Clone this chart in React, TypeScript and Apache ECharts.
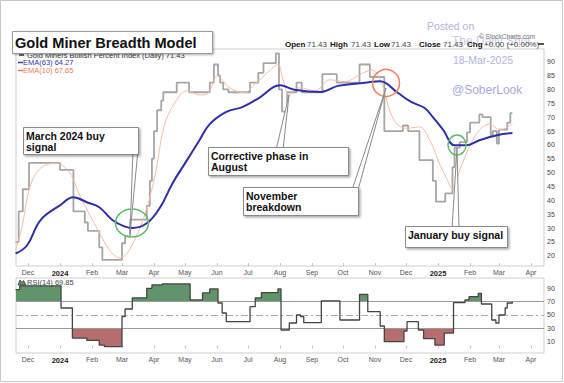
import React, { useEffect, useRef } from 'react';
import * as echarts from 'echarts';

// ---- Data ----
const grayDates = ['2023-11-19','2023-11-22','2023-11-26','2023-12-02','2024-01-01','2024-01-14','2024-01-25','2024-01-28','2024-02-08','2024-02-11','2024-03-01','2024-03-04','2024-03-09','2024-03-25','2024-03-28','2024-03-30','2024-04-01','2024-04-04','2024-04-08','2024-04-10','2024-04-23','2024-05-05','2024-05-25','2024-05-29','2024-06-02','2024-06-04','2024-06-07','2024-06-12','2024-07-03','2024-07-11','2024-07-16','2024-07-28','2024-07-31','2024-08-03','2024-08-08','2024-08-17','2024-08-22','2024-09-11','2024-09-25','2024-10-17','2024-10-27','2024-11-10','2024-11-28','2024-12-03','2024-12-14','2024-12-27','2024-12-30','2025-01-08','2025-01-15','2025-01-17','2025-01-22','2025-01-29','2025-02-01','2025-02-10','2025-02-13','2025-02-21','2025-02-23','2025-02-27','2025-03-01','2025-03-09','2025-03-12','2025-03-14'];
const grayValues = [25,36,44,53.5,51,36,32,29,23,18.5,24.5,27,33,38,47,55,65,72.5,76,79,82.5,79,82.5,89,85,82.5,80,79,82.5,86,89.5,93,80,72,79,82.5,79,85.5,82.5,89,84.5,65,67,65,54.5,47,39.5,42.5,52,59,61,64.5,68,71,70,63.5,65,60.5,65.5,68,71.43,71.43];

const ema63Dates = ['2023-11-19','2023-11-30','2023-12-13','2024-01-01','2024-01-14','2024-01-27','2024-02-08','2024-02-21','2024-03-04','2024-03-11','2024-03-25','2024-04-07','2024-04-19','2024-05-03','2024-05-15','2024-05-25','2024-06-10','2024-06-26','2024-07-12','2024-08-01','2024-08-15','2024-09-10','2024-09-26','2024-10-22','2024-11-06','2024-11-23','2024-12-06','2024-12-19','2024-12-27','2025-01-06','2025-01-17','2025-01-29','2025-02-10','2025-02-27','2025-03-14'];
const ema63Values = [20.8,23.7,32.8,38.2,41.1,39.3,37.5,32.8,30.5,30,31.7,37.5,46.2,54.5,61.7,67.5,71.9,73.7,77,81.5,79.9,79.1,81.3,82.4,83,78.8,75.5,73.3,70,65.4,59.9,59.9,61.7,63.5,64.27];

const ema10Dates = ['2023-11-19','2023-11-25','2023-12-03','2023-12-13','2023-12-27','2024-01-03','2024-01-12','2024-01-20','2024-01-30','2024-02-08','2024-02-18','2024-02-28','2024-03-06','2024-03-13','2024-03-23','2024-04-02','2024-04-11','2024-04-21','2024-05-03','2024-05-15','2024-05-23','2024-05-28','2024-06-01','2024-06-06','2024-06-13','2024-06-28','2024-07-05','2024-07-14','2024-07-24','2024-07-30','2024-08-04','2024-08-10','2024-08-20','2024-09-04','2024-09-18','2024-10-03','2024-10-17','2024-10-29','2024-11-08','2024-11-15','2024-11-23','2024-12-03','2024-12-14','2024-12-24','2025-01-03','2025-01-10','2025-01-15','2025-01-22','2025-02-01','2025-02-10','2025-02-20','2025-03-02','2025-03-14'];
const ema10Values = [22,30,45,51.6,53.4,52.7,49,41.8,34.6,28.4,22,19.2,20.9,25.5,34.6,49,67,75.1,79.5,78,78.5,82,85,83.5,80.6,78.8,81,84,87.5,89,83.5,78,80.6,79.5,83.5,82.8,85.3,87.1,81.7,72.6,67.2,66,66.5,61.7,52.7,47.3,44,50.9,59.9,65.4,67.5,65.4,67.65];

const rsiDates = ['2023-11-19','2023-11-23','2024-01-02','2024-01-13','2024-01-27','2024-02-08','2024-02-13','2024-03-01','2024-03-04','2024-03-11','2024-03-25','2024-03-30','2024-04-09','2024-05-06','2024-05-18','2024-05-25','2024-06-02','2024-06-06','2024-06-10','2024-07-03','2024-07-08','2024-07-14','2024-07-30','2024-08-02','2024-08-10','2024-08-17','2024-08-21','2024-08-24','2024-09-10','2024-09-28','2024-10-17','2024-10-25','2024-11-06','2024-11-10','2024-11-29','2024-12-02','2024-12-13','2024-12-18','2024-12-29','2025-01-07','2025-01-16','2025-01-27','2025-01-31','2025-02-09','2025-02-12','2025-02-22','2025-02-26','2025-03-01','2025-03-07','2025-03-09','2025-03-14'];
const rsiValues = [88,93.5,60.5,15.5,12,5,2.5,47.5,59,75.5,90,95,96.5,72.5,83,89,68,53,40,62.5,75.5,83.5,89,27.5,38,50,47.5,38.5,71,42.5,81,55,33.5,10,26,40,27.5,14.5,5,23,68.5,72.5,77.5,82.5,66.5,42.5,38,50,60.5,68,69.85];

const monthStarts = ['2023-12-01','2024-01-01','2024-02-01','2024-03-01','2024-04-01','2024-05-01','2024-06-01','2024-07-01','2024-08-01','2024-09-01','2024-10-01','2024-11-01','2024-12-01','2025-01-01','2025-02-01','2025-03-01','2025-04-01'];
const monthLabels = ['Dec','2024','Feb','Mar','Apr','May','Jun','Jul','Aug','Sep','Oct','Nov','Dec','2025','Feb','Mar','Apr'];
const mainTicks = [20,25,30,35,40,45,50,55,60,65,70,75,80,85,90];
const rsiTicks = [10,30,50,70,90];
const rsiUpper = 70;
const rsiLower = 30;
const rsiMid = 50;

// ---- helpers ----
const BASE = Date.UTC(2024, 0, 1);
const toDay = (s: string) => {
  const [y, m, d] = s.split('-').map(Number);
  return (Date.UTC(y, m - 1, d) - BASE) / 86400000;
};
const pairs = (dates: string[], vals: number[]) => dates.map((d, i) => [toDay(d), vals[i]]);
const FONT = '"Liberation Sans", Arial, Helvetica, sans-serif';
const XMIN = -42.6;
const XMAX = 468.6;
const monthDays = monthStarts.map(toDay);

const xAxisFor = (gridIndex: number) => ({
  type: 'value',
  gridIndex,
  min: XMIN,
  max: XMAX,
  axisLine: { show: false },
  splitLine: { show: false },
  axisTick: { show: true, inside: true, length: 3, lineStyle: { color: '#c4c4c4' }, customValues: monthDays },
  axisLabel: {
    customValues: monthDays,
    margin: 3,
    fontSize: 7,
    fontFamily: FONT,
    color: '#555',
    formatter: (v: number) => {
      const i = monthDays.findIndex((m) => Math.abs(m - v) < 0.5);
      const t = i >= 0 ? monthLabels[i] : '';
      return /^\d{4}$/.test(t) ? `{y|${t}}` : t;
    },
    rich: { y: { fontWeight: 'bold', fontSize: 7.5, color: '#222', fontFamily: FONT } },
  },
});

const txt = (text: string, x: number, y: number, extra: any = {}, z = 120) => ({
  type: 'text',
  x,
  y,
  z,
  style: { text, fontFamily: FONT, fontSize: 7.5, fill: '#333', textVerticalAlign: 'middle', ...extra },
});

const callout = (lines: string, bx: number, by: number, bw: number, bh: number, ptr: number[][]) => ({
  type: 'group',
  z: 130,
  children: [
    { type: 'polygon', z: 130, shape: { points: ptr }, style: { fill: '#fff', stroke: '#8a8a8a', lineWidth: 1 } },
    {
      type: 'rect', z: 131, shape: { x: bx + 0.5, y: by + 0.5, width: bw, height: bh },
      style: { fill: '#fff', stroke: '#8a8a8a', lineWidth: 1, shadowBlur: 2, shadowOffsetX: 1.5, shadowOffsetY: 1.5, shadowColor: 'rgba(0,0,0,0.35)' },
    },
    {
      type: 'text', z: 132, x: bx + 3, y: by + 3,
      style: { text: lines, fontFamily: FONT, fontWeight: 'bold', fontSize: 10.5, lineHeight: 11.5, fill: '#111', textVerticalAlign: 'top' },
    },
  ],
});

export default function App() {
  const ref = useRef<HTMLDivElement>(null);
  useEffect(() => {
    document.body.style.margin = '0';
    const chart = echarts.init(ref.current!, null, { renderer: 'svg' });
    const rsi = pairs(rsiDates, rsiValues);
    const option: any = {
      animation: false,
      backgroundColor: '#fff',
      textStyle: { fontFamily: FONT },
      grid: [
        { left: 16, top: 49, width: 528, height: 217, show: true, borderColor: '#cfcfcf', borderWidth: 1, backgroundColor: '#fff' },
        { left: 16, top: 278, width: 528, height: 75, show: true, borderColor: '#cfcfcf', borderWidth: 1, backgroundColor: '#fff' },
      ],
      xAxis: [xAxisFor(0), xAxisFor(1)],
      yAxis: [
        {
          type: 'value', gridIndex: 0, position: 'right', min: 16.3, max: 94.6,
          axisLine: { show: false }, axisTick: { show: false }, splitLine: { show: false },
          axisLabel: { customValues: mainTicks, fontSize: 7, color: '#444', margin: 3, fontFamily: FONT },
        },
        {
          type: 'value', gridIndex: 1, position: 'right', min: -6.9, max: 105.4,
          axisLine: { show: false }, axisTick: { show: false }, splitLine: { show: false },
          axisLabel: { customValues: rsiTicks, fontSize: 7, color: '#444', margin: 3, fontFamily: FONT },
        },
      ],
      series: [
        {
          name: 'Gold Miners Bullish Percent Index', type: 'line', xAxisIndex: 0, yAxisIndex: 0,
          data: pairs(grayDates, grayValues), step: 'end', showSymbol: false,
          lineStyle: { color: '#a6a6a6', width: 1.8 }, z: 2,
        },
        {
          name: 'EMA(10)', type: 'line', xAxisIndex: 0, yAxisIndex: 0,
          data: pairs(ema10Dates, ema10Values), smooth: 0.35, showSymbol: false,
          lineStyle: { color: '#f7bca6', width: 1 }, z: 3,
        },
        {
          name: 'EMA(63)', type: 'line', xAxisIndex: 0, yAxisIndex: 0,
          data: pairs(ema63Dates, ema63Values), smooth: 0.4, showSymbol: false,
          lineStyle: { color: '#2e2ea8', width: 2 }, z: 4,
        },
        {
          name: 'RSI up', type: 'line', xAxisIndex: 1, yAxisIndex: 1,
          data: rsi.map(([x, v]) => [x, Math.max(v, rsiUpper)]), step: 'end', showSymbol: false,
          lineStyle: { width: 0, opacity: 0 }, areaStyle: { color: '#62946a', origin: rsiUpper, opacity: 1 }, z: 2,
        },
        {
          name: 'RSI down', type: 'line', xAxisIndex: 1, yAxisIndex: 1,
          data: rsi.map(([x, v]) => [x, Math.min(v, rsiLower)]), step: 'end', showSymbol: false,
          lineStyle: { width: 0, opacity: 0 }, areaStyle: { color: '#b56d6d', origin: rsiLower, opacity: 1 }, z: 2,
        },
        {
          name: 'RSI(14)', type: 'line', xAxisIndex: 1, yAxisIndex: 1,
          data: rsi, step: 'end', showSymbol: false,
          lineStyle: { color: '#444', width: 1.3 }, z: 5,
          markLine: {
            silent: true, symbol: 'none', label: { show: false }, animation: false,
            data: [
              { yAxis: rsiUpper, lineStyle: { color: '#9a9a9a', type: 'solid', width: 1 } },
              { yAxis: rsiLower, lineStyle: { color: '#9a9a9a', type: 'solid', width: 1 } },
              { yAxis: rsiMid, lineStyle: { color: '#aaaaaa', type: [7, 3, 2, 3], width: 1 } },
            ],
          },
        },
      ],
      graphic: [
        { type: 'rect', z: 200, shape: { x: 0.5, y: 0.5, width: 562, height: 381 }, style: { fill: 'none', stroke: '#c8c8c8', lineWidth: 1 } },
        // watermark
        txt('Posted on', 427, 26, { fontSize: 10.5, fill: '#b3b3dd' }, 105),
        txt('The Daily Shot', 452, 41, { fontSize: 12, fill: '#cacaea' }, 105),
        txt('18-Mar-2025', 453, 60, { fontSize: 10.5, fill: '#b3b3dd' }, 105),
        txt('@SoberLook', 452, 90, { fontSize: 12, fill: '#a9a9dc' }, 105),
        // top-right stats
        txt('© StockCharts.com', 479, 36, { fontSize: 6.5, fill: '#777' }),
        txt('Open', 285, 44, { fontSize: 8, fontWeight: 'bold', fill: '#111' }),
        txt('71.43', 307, 44, { fontSize: 8, fill: '#444' }),
        txt('High', 330, 44, { fontSize: 8, fontWeight: 'bold', fill: '#111' }),
        txt('71.43', 351, 44, { fontSize: 8, fill: '#444' }),
        txt('Low', 374, 44, { fontSize: 8, fontWeight: 'bold', fill: '#111' }),
        txt('71.43', 391, 44, { fontSize: 8, fill: '#444' }),
        txt('Close', 419, 44, { fontSize: 8, fontWeight: 'bold', fill: '#111' }),
        txt('71.43', 443, 44, { fontSize: 8, fill: '#444' }),
        txt('Chg', 467, 44, { fontSize: 8, fontWeight: 'bold', fill: '#111' }),
        txt('+0.00 (+0.00%)', 484, 44, { fontSize: 8, fill: '#444' }),
        { type: 'line', z: 120, shape: { x1: 538, y1: 44, x2: 544, y2: 44 }, style: { stroke: '#222', lineWidth: 1.5 } },
        // legend
        { type: 'line', z: 110, shape: { x1: 19, y1: 55, x2: 24, y2: 55 }, style: { stroke: '#333', lineWidth: 1.5 } },
        txt('Gold Miners Bullish Percent Index (Daily) 71.43', 27, 55, { fill: '#333' }, 110),
        { type: 'line', z: 110, shape: { x1: 18, y1: 62.5, x2: 23, y2: 62.5 }, style: { stroke: '#3434b0', lineWidth: 1.5 } },
        txt('EMA(63) 64.27', 23, 62.5, { fill: '#3434b0' }, 110),
        { type: 'line', z: 110, shape: { x1: 18, y1: 70.5, x2: 23, y2: 70.5 }, style: { stroke: '#f07a50', lineWidth: 1.5 } },
        txt('EMA(10) 67.65', 23, 70.5, { fill: '#f07a50' }, 110),
        // title
        {
          type: 'rect', z: 140, shape: { x: 12.5, y: 31.5, width: 200, height: 22 },
          style: { fill: '#fff', stroke: '#9a9a9a', lineWidth: 1, shadowBlur: 2, shadowOffsetX: 1, shadowOffsetY: 1, shadowColor: 'rgba(0,0,0,0.3)' },
        },
        txt('Gold Miner Breadth Model', 15, 42.5, { fontSize: 14.6, fontWeight: 'bold', fill: '#111' }, 141),
        // RSI label
        { type: 'polygon', z: 120, shape: { points: [[18, 285], [20, 280], [22, 282.5], [23.5, 280.5], [26, 285]] }, style: { fill: '#62946a', stroke: '#333', lineWidth: 0.8 } },
        txt('RSI(14) 69.85', 27, 282.5, { fill: '#444' }, 120),
        // circles
        { type: 'ellipse', z: 125, shape: { cx: 132, cy: 223, rx: 16.5, ry: 14 }, style: { fill: 'none', stroke: '#5cbd6a', lineWidth: 1.5 } },
        { type: 'circle', z: 125, shape: { cx: 386, cy: 83, r: 13.5 }, style: { fill: 'none', stroke: '#f0805c', lineWidth: 1.5 } },
        { type: 'ellipse', z: 125, shape: { cx: 457, cy: 145, rx: 9, ry: 10 }, style: { fill: 'none', stroke: '#5cbd6a', lineWidth: 1.5 } },
        // callouts
        callout('March 2024 buy\nsignal', 23, 127, 115, 27, [[133, 150], [138, 150], [130, 234]]),
        callout('Corrective phase in\nAugust', 208, 147, 140, 28, [[276, 150], [283, 150], [289, 95]]),
        callout('November\nbreakdown', 243, 187, 115, 28, [[352, 190], [358, 190], [386, 88]]),
        callout('January buy signal', 405, 226, 102, 21, [[452, 229], [459, 229], [457, 148]]),
      ],
    };
    chart.setOption(option);
    return () => chart.dispose();
  }, []);
  return <div ref={ref} style={{ width: 564, height: 383 }} />;
}
